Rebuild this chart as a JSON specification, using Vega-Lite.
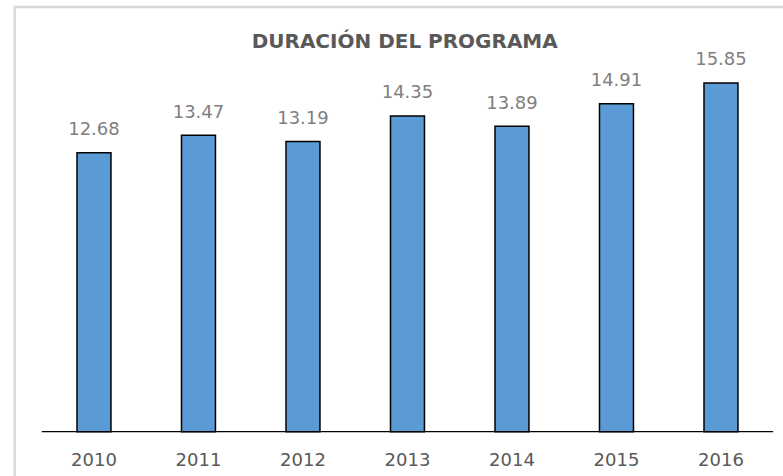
{
  "$schema": "https://vega.github.io/schema/vega-lite/v6.json",
  "width": 776,
  "height": 475,
  "autosize": {"type": "none"},
  "padding": {"left": 14.7, "top": 7, "right": 0, "bottom": 0},
  "background": "white",
  "config": {"view": {"stroke": "#d9d9d9", "strokeWidth": 2.5}},
  "title": {
    "text": "DURACIÓN DEL PROGRAMA",
    "font": "DejaVu Sans",
    "fontSize": 20,
    "fontWeight": "bold",
    "color": "#595959",
    "anchor": "middle",
    "baseline": "alphabetic",
    "offset": -41.5,
    "dy": 19.5,
    "dx": 2
  },
  "data": {
    "values": [
      {"year": "2010", "value": 12.68},
      {"year": "2011", "value": 13.47},
      {"year": "2012", "value": 13.19},
      {"year": "2013", "value": 14.35},
      {"year": "2014", "value": 13.89},
      {"year": "2015", "value": 14.91},
      {"year": "2016", "value": 15.85}
    ]
  },
  "encoding": {
    "x": {
      "field": "year",
      "type": "nominal",
      "scale": {"paddingInner": 0.675, "paddingOuter": 0.5504, "align": 0.5416, "round": false},
      "axis": {
        "title": null,
        "domain": false,
        "ticks": false,
        "tickSize": 0,
        "grid": false,
        "labelAngle": 0,
        "labelFont": "DejaVu Sans",
        "labelFontSize": 18,
        "labelColor": "#595959",
        "labelBaseline": "alphabetic",
        "labelPadding": 34.3,
        "offset": -50.3
      }
    }
  },
  "layer": [
    {
      "mark": {"type": "bar", "fill": "#5b9bd5", "stroke": "#000000", "strokeWidth": 1.5},
      "encoding": {
        "y": {
          "field": "value",
          "type": "quantitative",
          "scale": {"domain": [-2.286, 19.305], "nice": false, "zero": false},
          "axis": null
        },
        "y2": {"datum": 0}
      }
    },
    {
      "mark": {"type": "text", "baseline": "alphabetic", "dy": -17.6, "font": "DejaVu Sans", "fontSize": 18, "fill": "#7f7f7f"},
      "encoding": {
        "y": {"field": "value", "type": "quantitative"},
        "text": {"field": "value", "type": "quantitative", "format": ".2f"}
      }
    },
    {
      "transform": [{"filter": "datum.year == '2010'"}],
      "mark": {"type": "rule", "color": "#000000", "strokeWidth": 1.3},
      "encoding": {
        "x": {"datum": "2010", "bandPosition": -1.0368},
        "x2": {"datum": "2016", "bandPosition": 2.0368},
        "y": {"datum": 0}
      }
    }
  ]
}
